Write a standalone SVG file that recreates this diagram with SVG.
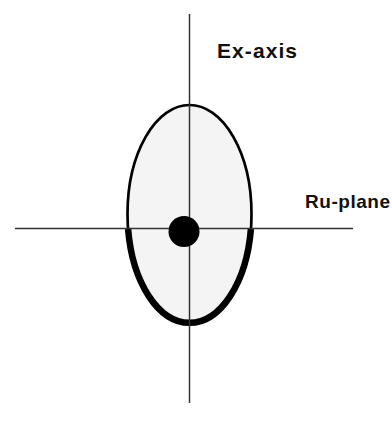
<svg xmlns="http://www.w3.org/2000/svg" width="392" height="432" viewBox="0 0 392 432">
<style>
.axis{stroke:#333;stroke-width:1.5;fill:none}
.lbl{font-family:"Liberation Sans",Arial,sans-serif;font-weight:bold;fill:#111}
</style>
<rect width="392" height="432" fill="#fff"/>
<g id="ellipse">
<ellipse cx="189.5" cy="214" rx="62" ry="109" fill="#f4f4f4" stroke="#000" stroke-width="2.7"/>
<path d="M128.1,229 A62,109 0 0 0 250.9,229" fill="none" stroke="#000" stroke-width="6.5"/>
</g>
<g id="connectors">
<line class="axis" x1="189.5" y1="14" x2="189.5" y2="403"/>
<line class="axis" x1="15" y1="228.5" x2="353" y2="228.5"/>
</g>
<g id="dot"><circle cx="184" cy="231.5" r="15.5" fill="#000"/></g>
<g id="ex-axis"><text class="lbl" x="217" y="58" font-size="21" textLength="80">Ex-axis</text></g>
<g id="ru-plane"><text class="lbl" x="305" y="208" font-size="19" textLength="85">Ru-plane</text></g>
</svg>
